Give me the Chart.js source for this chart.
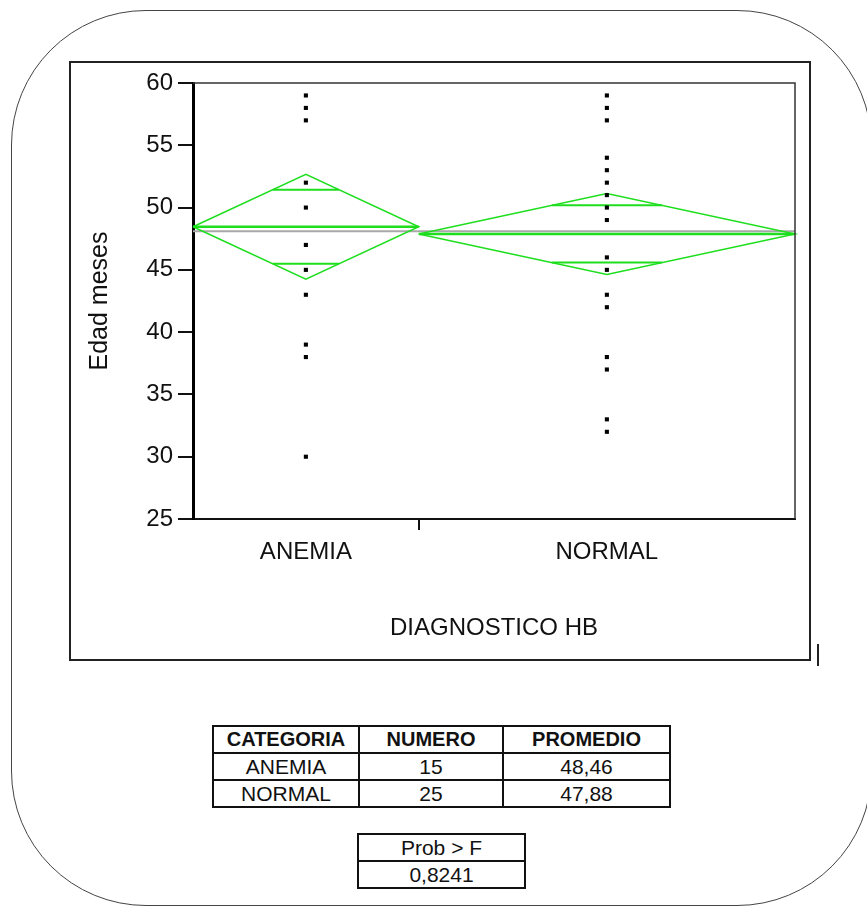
<!DOCTYPE html>
<html lang="es">
<head>
<meta charset="utf-8">
<title>Edad meses por diagnóstico HB</title>
<script src="https://cdn.jsdelivr.net/npm/chart.js@4.4.1/dist/chart.umd.min.js"></script>
<style>
  html, body { margin: 0; padding: 0; background: #fff; }
  body {
    width: 867px; height: 907px; position: relative; overflow: hidden;
    font-family: "Liberation Sans", Arial, sans-serif; color: #111;
  }
  .card {
    position: absolute; left: 11px; top: 10px; width: 861px; height: 896px;
    box-sizing: border-box; border: 1.5px solid #444; border-radius: 135px;
  }
  .plot-box {
    position: absolute; left: 69px; top: 61px; width: 742px; height: 600px;
    box-sizing: border-box; border: 2px solid #222;
  }
  #chart { position: absolute; left: 70px; top: 62px; }
  .tick-mark { position: absolute; left: 817px; top: 644px; width: 2px; height: 22px; background: #222; }
  table.stats {
    position: absolute; border-collapse: collapse; font-size: 21px; table-layout: fixed;
  }
  table.stats td, table.stats th {
    border: 2px solid #111; text-align: center; padding: 0;
    height: 25px; line-height: 25px; white-space: nowrap;
  }
  table.stats th { font-weight: bold; font-size: 20px; }
</style>
</head>
<body>
<div class="card"></div>
<div class="plot-box"></div>
<canvas id="chart" width="740" height="598"></canvas>
<div class="tick-mark"></div>

<table class="stats" id="summary" style="left:212px; top:725px;">
  <colgroup><col style="width:146px"><col style="width:144px"><col style="width:167px"></colgroup>
  <thead><tr><th>CATEGORIA</th><th>NUMERO</th><th>PROMEDIO</th></tr></thead>
  <tbody></tbody>
</table>

<table class="stats" id="anova" style="left:357px; top:833px;">
  <colgroup><col style="width:167px"></colgroup>
  <tbody><tr><td>Prob &gt; F</td></tr><tr><td id="probCell"></td></tr></tbody>
</table>

<script>
// groups, sizes and means of "Edad meses"
const categories = ['ANEMIA', 'NORMAL'];
const counts = [15, 25];
const means = [48.46, 47.88];
// half-width of each 95% confidence diamond
const ci95 = [4.20, 3.25];
// individual ages (months) per group
const agesAnemia = [59, 58, 57, 52, 50, 47, 45, 43, 39, 38, 30];
const agesNormal = [59, 58, 57, 54, 53, 52, 51, 50, 49, 46, 45, 43, 42, 38, 37, 33, 32];
const yMin = 25;
const yMax = 60;
const yStep = 5;
const probF = '0,8241';

const GREEN = '#1ede1e';
const GREY = '#a8a8a8';

// x axis is split in proportion to group size
const total = counts.reduce((a, b) => a + b, 0);
const starts = [];
let acc = 0;
counts.forEach(n => { starts.push(acc); acc += n; });
const centers = counts.map((n, i) => starts[i] + n / 2);
const grandMean = means.reduce((s, m, i) => s + m * counts[i], 0) / total;

const fmt = v => v.toFixed(2).replace('.', ',');

// tables under the chart
const tbody = document.querySelector('#summary tbody');
categories.forEach((c, i) => {
  const tr = document.createElement('tr');
  [c, String(counts[i]), fmt(means[i])].forEach(t => {
    const td = document.createElement('td');
    td.textContent = t;
    tr.appendChild(td);
  });
  tbody.appendChild(tr);
});
document.getElementById('probCell').textContent = probF;

function lineSet(points, width, color) {
  return {
    type: 'scatter', showLine: true, data: points, borderColor: color, borderWidth: width,
    pointRadius: 0, fill: false, tension: 0, clip: false
  };
}

const datasets = [];

// raw observations on top
datasets.push({
  type: 'scatter',
  data: [
    ...agesAnemia.map(y => ({ x: centers[0], y })),
    ...agesNormal.map(y => ({ x: centers[1], y }))
  ],
  pointStyle: 'rect', pointRadius: 2.9, backgroundColor: '#000', borderWidth: 0
});

categories.forEach((c, i) => {
  const x0 = starts[i], x1 = starts[i] + counts[i], xc = centers[i];
  const m = means[i], h = ci95[i];
  // diamond outline
  datasets.push(lineSet([
    { x: x0, y: m }, { x: xc, y: m + h }, { x: x1, y: m }, { x: xc, y: m - h }, { x: x0, y: m }
  ], 1.5, GREEN));
  // group mean
  datasets.push(lineSet([{ x: x0, y: m }, { x: x1, y: m }], 2.5, GREEN));
  // overlap marks at mean +/- ci/sqrt(2)
  const k = 1 / Math.SQRT2;
  const half = counts[i] / 2 * (1 - k);
  [m + h * k, m - h * k].forEach(y => {
    datasets.push(lineSet([{ x: xc - half, y }, { x: xc + half, y }], 2, GREEN));
  });
});

// grand mean across the whole plot
datasets.push(lineSet([{ x: 0, y: grandMean }, { x: total, y: grandMean }], 2, GREY));

const frame = {
  id: 'frame',
  afterDatasetsDraw(chart) {
    const { ctx, chartArea: a } = chart;
    ctx.save();
    ctx.strokeStyle = '#333';
    ctx.lineWidth = 1.5;
    ctx.beginPath();
    ctx.moveTo(a.left, a.top);
    ctx.lineTo(a.right, a.top);
    ctx.lineTo(a.right, a.bottom);
    ctx.stroke();
    ctx.restore();
  }
};

const xTicks = [...centers, ...starts.slice(1)].sort((a, b) => a - b);

new Chart(document.getElementById('chart'), {
  type: 'scatter',
  data: { datasets },
  options: {
    responsive: false,
    animation: false,
    layout: { padding: { top: 21, right: 15, left: 0, bottom: 0 } },
    plugins: { legend: { display: false }, tooltip: { enabled: false } },
    scales: {
      x: {
        type: 'linear', min: 0, max: total,
        afterBuildTicks: s => { s.ticks = xTicks.map(v => ({ value: v })); },
        afterFit: s => { s.height = 141; },
        ticks: {
          autoSkip: false, maxRotation: 0, padding: 8,
          font: { family: 'Liberation Sans', size: 24 }, color: '#111',
          callback: v => { const i = centers.indexOf(v); return i >= 0 ? categories[i] : ''; }
        },
        grid: {
          drawOnChartArea: false, tickLength: 11, lineWidth: 2,
          color: c => (c.tick && starts.includes(c.tick.value)) ? '#111' : 'rgba(0,0,0,0)'
        },
        border: { color: '#111', width: 2 },
        title: {
          display: true, text: 'DIAGNOSTICO HB', color: '#111',
          font: { family: 'Liberation Sans', size: 24 }, padding: { top: 0, bottom: 17 }
        }
      },
      y: {
        min: yMin, max: yMax,
        afterFit: s => { s.width = 123; },
        ticks: { stepSize: yStep, padding: 5, font: { family: 'Liberation Sans', size: 24 }, color: '#111' },
        grid: { drawOnChartArea: false, tickLength: 15, lineWidth: 2, color: '#111' },
        border: { color: '#000', width: 3 },
        title: {
          display: true, text: 'Edad meses', color: '#111',
          font: { family: 'Liberation Sans', size: 25 }, padding: { top: 15, bottom: 0 }
        }
      }
    }
  },
  plugins: [frame]
});
</script>
</body>
</html>
